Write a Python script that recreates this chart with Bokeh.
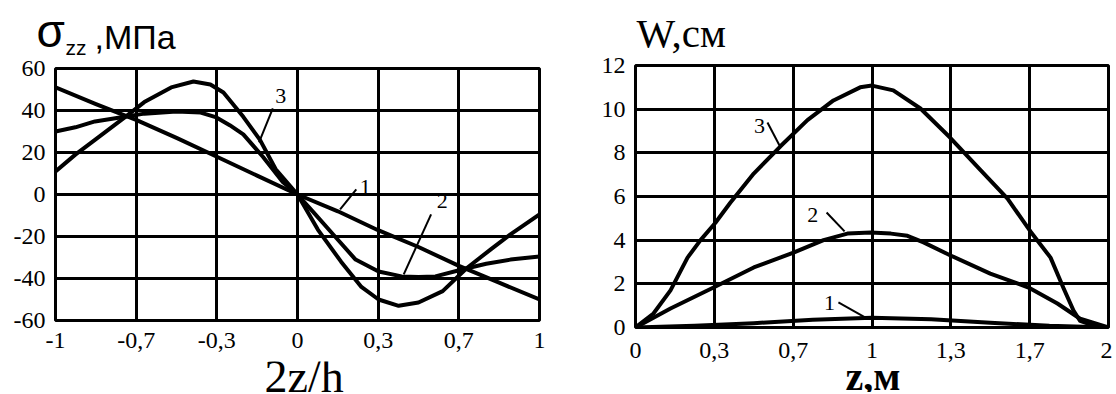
from bokeh.plotting import figure
from bokeh.layouts import row, column
from bokeh.models import FixedTicker, Range1d
from bokeh.core.properties import value
from bokeh.embed import file_html
from bokeh.resources import INLINE

# ---------------- left chart: sigma_zz vs 2z/h ----------------
# x positions (grid divides [-1, 1] into sixths; labels are rounded as printed)
sx_ticks = [-1, -2/3, -1/3, 0, 1/3, 2/3, 1]
sx_labels = ["-1", "-0,7", "-0,3", "0", "0,3", "0,7", "1"]
sy_ticks = [-60, -40, -20, 0, 20, 40, 60]
sy_labels = ["-60", "-40", "-20", "0", "20", "40", "60"]

s1_x = [-1, -0.833, -0.667, -0.5, -0.333, -0.167, 0, 0.167, 0.333, 0.5, 0.667, 0.833, 1]
s1_y = [51, 43, 35.5, 27, 18, 9, 0, -8, -17, -25, -34, -42, -50]

s2_x = [-1, -0.918, -0.837, -0.714, -0.633, -0.5, -0.4, -0.335, -0.28, -0.224, -0.143, -0.061,
        0, 0.07, 0.155, 0.24, 0.335, 0.43, 0.5, 0.57, 0.68, 0.78, 0.88, 1]
s2_y = [30, 32, 34.8, 37, 38.5, 39.5, 39, 36.7, 33, 28.6, 18, 6,
        0, -9, -20, -31, -36.7, -39, -39.3, -39, -35.7, -33, -31, -29.5]

s3_x = [-1, -0.918, -0.837, -0.714, -0.633, -0.522, -0.43, -0.36, -0.306, -0.224, -0.155, -0.09,
        0, 0.084, 0.18, 0.264, 0.335, 0.418, 0.5, 0.6, 0.7, 0.8, 0.88, 1]
s3_y = [11, 19, 26, 36.7, 44, 51, 53.8, 52.4, 48.6, 37, 26, 12,
        0, -16.7, -32, -44, -50, -53, -51.4, -46, -35, -26, -19, -9.5]

# curve number labels and their leader lines (data coordinates)
s_lab_text = ["3", "1", "2"]
s_lab_x = [-0.069, 0.28, 0.598]
s_lab_y = [46.7, 3.8, -3.3]
s_lead_x0 = [-0.102, 0.243, 0.552]
s_lead_y0 = [41, 2.4, -9.5]
s_lead_x1 = [-0.159, 0.176, 0.439]
s_lead_y1 = [24.8, -7.1, -38]

# ---------------- right chart: W vs z ----------------
wx_ticks = [0, 1/3, 2/3, 1, 4/3, 5/3, 2]
wx_labels = ["0", "0,3", "0,7", "1", "1,3", "1,7", "2"]
wy_ticks = [0, 2, 4, 6, 8, 10, 12]
wy_labels = ["0", "2", "4", "6", "8", "10", "12"]

w1_x = [0, 0.25, 0.5, 0.75, 1, 1.25, 1.5, 1.75, 2]
w1_y = [0, 0.08, 0.2, 0.36, 0.45, 0.38, 0.22, 0.08, 0]

w2_x = [0, 0.148, 0.33, 0.5, 0.668, 0.795, 0.896, 0.994, 1.08, 1.15, 1.218, 1.332, 1.5, 1.662, 1.784, 1.88, 2]
w2_y = [0, 0.87, 1.83, 2.75, 3.43, 4.0, 4.3, 4.35, 4.3, 4.2, 3.9, 3.3, 2.47, 1.83, 1.1, 0.4, 0]

w3_x = [0, 0.076, 0.148, 0.22, 0.275, 0.338, 0.40, 0.50, 0.613, 0.727, 0.837, 0.95, 1.0, 1.09, 1.205,
        1.33, 1.46, 1.573, 1.67, 1.755, 1.81, 1.852, 1.88, 1.94, 2]
w3_y = [0, 0.64, 1.7, 3.2, 4.0, 4.8, 5.7, 7.05, 8.3, 9.5, 10.4, 11.0, 11.08, 10.86, 10.03,
        8.7, 7.2, 5.9, 4.4, 3.2, 1.8, 0.78, 0.3, 0.08, 0]

w_lab_text = ["3", "2", "1"]
w_lab_x = [0.524, 0.749, 0.82]
w_lab_y = [9.25, 5.13, 1.1]
w_lead_x0 = [0.558, 0.808, 0.858]
w_lead_y0 = [9.39, 5.27, 1.15]
w_lead_x1 = [0.609, 0.884, 0.98]
w_lead_y1 = [8.34, 4.4, 0.41]

SERIF = "Liberation Serif"
SANS = "Liberation Sans"

# page layout (pixels)
LEFT_W, RIGHT_W = 566, 546
TOTAL_H = 392


def text_fig(x0, y0, w, h):
    """A bare figure whose data units are page pixels (y grows downward)."""
    f = figure(width=w, height=h, x_range=Range1d(x0, x0 + w), y_range=Range1d(y0 + h, y0),
               output_backend="svg", toolbar_location=None, title=None,
               min_border_left=0, min_border_right=0, min_border_top=0, min_border_bottom=0)
    f.axis.visible = False
    f.grid.visible = False
    f.outline_line_color = None
    f.frame_align = False
    return f


def put(f, x, baseline, txt, font, size, bold=False):
    # text is placed by its middle; baseline sits ~0.34 em below the middle
    f.text(x=[x], y=[baseline - 0.34 * size], text=[txt], text_font=value(font),
           text_font_size=f"{size}px", text_font_style="bold" if bold else "normal",
           text_baseline="middle", text_align="left", text_color="black")


def style(p, xt, xl, yt, yl, x_standoff, y_standoff):
    p.frame_align = False
    p.outline_line_color = "black"
    p.outline_line_width = 3
    p.background_fill_color = "white"
    p.border_fill_color = None
    p.xgrid.ticker = FixedTicker(ticks=xt[1:-1])
    p.ygrid.ticker = FixedTicker(ticks=yt[1:-1])
    for g in (p.xgrid[0], p.ygrid[0]):
        g.grid_line_color = "black"
        g.grid_line_width = 3
        g.grid_line_alpha = 1.0
    p.xaxis.ticker = FixedTicker(ticks=xt)
    p.xaxis.major_label_overrides = {t: l for t, l in zip(xt, xl)}
    p.yaxis.ticker = FixedTicker(ticks=yt)
    p.yaxis.major_label_overrides = {t: l for t, l in zip(yt, yl)}
    for ax in (p.xaxis[0], p.yaxis[0]):
        ax.axis_line_color = None
        ax.major_tick_line_color = None
        ax.minor_tick_line_color = None
        ax.major_tick_in = 0
        ax.major_tick_out = 0
        ax.minor_tick_in = 0
        ax.minor_tick_out = 0
        ax.major_label_text_font = SERIF
        ax.major_label_text_font_size = "24px"
        ax.major_label_text_color = "black"
    p.xaxis.major_label_standoff = x_standoff
    p.yaxis.major_label_standoff = y_standoff


# ---- left column ----
T1_H, T1_OVERLAP = 62, 8
P1_TOP, P1_BOTTOM = 14, 41
P1_H = P1_TOP + 252 + P1_BOTTOM
t1 = text_fig(0, 0, LEFT_W, T1_H)
put(t1, 36, 46, "σ", SANS, 46)
put(t1, 65, 54, "zz", SANS, 21)
put(t1, 94, 48, ",МПа", SANS, 34)

p1 = figure(width=LEFT_W, height=P1_H, x_range=Range1d(-1, 1), y_range=Range1d(-60, 60),
            output_backend="svg", toolbar_location=None, title=None,
            min_border_left=55, min_border_right=LEFT_W - 55 - 484, min_border_top=P1_TOP,
            min_border_bottom=P1_BOTTOM)
p1.margin = (-T1_OVERLAP, 0, 0, 0)
style(p1, sx_ticks, sx_labels, sy_ticks, sy_labels, 12, 10)
for xs, ys in ((s1_x, s1_y), (s2_x, s2_y), (s3_x, s3_y)):
    p1.line(xs, ys, line_color="black", line_width=4, line_join="round", line_cap="round")
p1.segment(x0=s_lead_x0, y0=s_lead_y0, x1=s_lead_x1, y1=s_lead_y1, line_color="black", line_width=2)
p1.text(x=s_lab_x, y=s_lab_y, text=s_lab_text, text_font=value(SERIF), text_font_size="22px",
        text_align="center", text_baseline="middle", text_color="black")

B1_Y = T1_H - T1_OVERLAP + P1_H
b1 = text_fig(0, B1_Y, LEFT_W, TOTAL_H - B1_Y)
put(b1, 264, 392, "2z/h", SERIF, 46)

# ---- right column ----
T2_H, T2_OVERLAP = 60, 9
P2_TOP, P2_BOTTOM = 14, 43
P2_H = P2_TOP + 262 + P2_BOTTOM
t2 = text_fig(LEFT_W, 0, RIGHT_W, T2_H)
put(t2, 636, 46, "W,см", SERIF, 41)

p2 = figure(width=RIGHT_W, height=P2_H, x_range=Range1d(0, 2), y_range=Range1d(0, 12),
            output_backend="svg", toolbar_location=None, title=None,
            min_border_left=635 - LEFT_W, min_border_right=LEFT_W + RIGHT_W - 1108,
            min_border_top=P2_TOP, min_border_bottom=P2_BOTTOM)
p2.margin = (-T2_OVERLAP, 0, 0, 0)
style(p2, wx_ticks, wx_labels, wy_ticks, wy_labels, 15, 10)
for xs, ys in ((w1_x, w1_y), (w2_x, w2_y), (w3_x, w3_y)):
    p2.line(xs, ys, line_color="black", line_width=4, line_join="round", line_cap="round")
p2.segment(x0=w_lead_x0, y0=w_lead_y0, x1=w_lead_x1, y1=w_lead_y1, line_color="black", line_width=2)
p2.text(x=w_lab_x, y=w_lab_y, text=w_lab_text, text_font=value(SERIF), text_font_size="22px",
        text_align="center", text_baseline="middle", text_color="black")

B2_Y = T2_H - T2_OVERLAP + P2_H
b2 = text_fig(LEFT_W, B2_Y, RIGHT_W, TOTAL_H - B2_Y)
put(b2, 845, 390, "z,м", SERIF, 40, bold=True)

layout = row(column(t1, p1, b1), column(t2, p2, b2))
open("out.html", "w").write(file_html(layout, INLINE))
